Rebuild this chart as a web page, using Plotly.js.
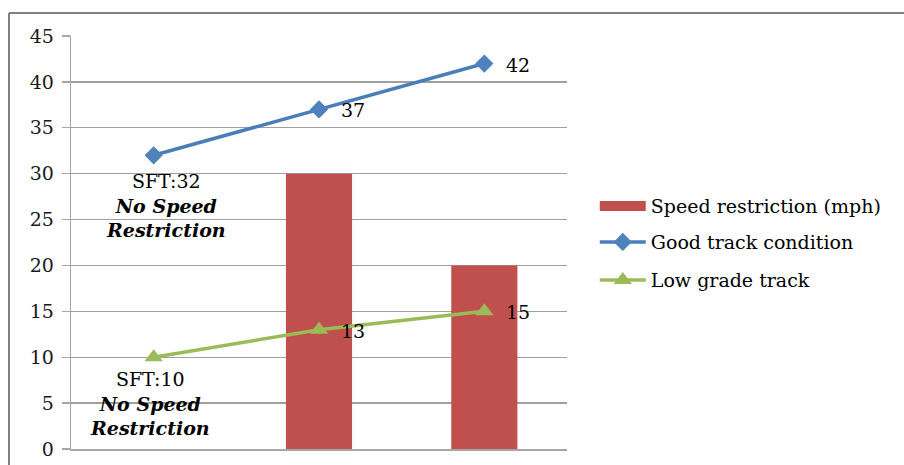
<!DOCTYPE html>
<html>
<head>
<meta charset="utf-8">
<script src="https://cdn.plot.ly/plotly-3.0.1.min.js"></script>
<style>
  html, body { margin: 0; padding: 0; background: #ffffff; }
  #chart { width: 904px; height: 465px; }
</style>
</head>
<body>
<div id="chart"></div>
<script>
// Track segments along the x axis (labels are not shown on the axis)
const segments = ['Segment 1', 'Segment 2', 'Segment 3'];

// Speed restriction imposed on each segment, mph (none on the first)
const speedRestriction = [null, 30, 20];

// SFT values under the two track conditions
const goodTrack = [32, 37, 42];
const lowGradeTrack = [10, 13, 15];

const seriesNames = ['Speed restriction (mph)', 'Good track condition', 'Low grade track'];

const FONT = 'DejaVu Serif, Liberation Serif, serif';
const FONT_SIZE = 19;
const RED = '#C0504D';
const BLUE = '#4A7EBB';
const GREEN = '#9BBB59';

const traces = [
  {
    type: 'bar',
    name: seriesNames[0],
    x: segments,
    y: speedRestriction,
    width: 0.4,
    marker: { color: RED },
    legendgroup: 'restriction',
    showlegend: false,
    hoverinfo: 'skip'
  },
  // legend key for the bars: a wide flat swatch
  {
    type: 'scatter',
    mode: 'lines',
    name: seriesNames[0],
    x: [null],
    y: [null],
    line: { color: RED, width: 10 },
    legendgroup: 'restriction',
    legend: 'legend',
    hoverinfo: 'skip'
  },
  {
    type: 'scatter',
    mode: 'lines+markers',
    name: seriesNames[1],
    x: segments,
    y: goodTrack,
    line: { color: BLUE, width: 3.5 },
    marker: { symbol: 'diamond', size: 14, color: '#4F81BD' },
    legend: 'legend2',
    hoverinfo: 'skip'
  },
  {
    type: 'scatter',
    mode: 'lines+markers',
    name: seriesNames[2],
    x: segments,
    y: lowGradeTrack,
    line: { color: GREEN, width: 3.5 },
    marker: { symbol: 'triangle-up', size: 16, color: GREEN },
    legend: 'legend3',
    hoverinfo: 'skip'
  }
];

// Value labels to the right of the later points
const annotations = [];
[goodTrack, lowGradeTrack].forEach(function (series) {
  for (let i = 1; i < series.length; i++) {
    annotations.push({
      x: segments[i], y: series[i], xref: 'x', yref: 'y',
      text: String(series[i]),
      showarrow: false,
      xanchor: 'left', yanchor: 'middle',
      xshift: 20, yshift: -1,
      font: { family: FONT, size: FONT_SIZE, color: '#000000' }
    });
  }
});

// Notes below the first point of each line
function firstNote(series, xshift, yshift) {
  return {
    x: segments[0], y: series[0], xref: 'x', yref: 'y',
    text: 'SFT:' + series[0] + '<br><b><i>No Speed</i></b><br><b><i>Restriction</i></b>',
    showarrow: false,
    xanchor: 'center', yanchor: 'top',
    xshift: xshift, yshift: yshift,
    align: 'center',
    font: { family: FONT, size: FONT_SIZE, color: '#000000' }
  };
}
annotations.push(firstNote(goodTrack, 12, -13));
annotations.push(firstNote(lowGradeTrack, -4, -9));

const legendBase = {
  xref: 'paper', yref: 'paper',
  x: 1.056, xanchor: 'left', yanchor: 'middle',
  bgcolor: 'rgba(0,0,0,0)',
  font: { family: FONT, size: FONT_SIZE, color: '#000000' },
  itemwidth: 46
};

const layout = {
  width: 904,
  height: 465,
  margin: { l: 71, r: 337, t: 36, b: 16, pad: 0 },
  paper_bgcolor: '#ffffff',
  plot_bgcolor: '#ffffff',
  showlegend: true,
  legend: Object.assign({}, legendBase, { y: 0.588 }),
  legend2: Object.assign({}, legendBase, { y: 0.501 }),
  legend3: Object.assign({}, legendBase, { y: 0.409 }),
  xaxis: {
    type: 'category',
    range: [-0.5, 2.5],
    showticklabels: false,
    ticks: '',
    showgrid: false,
    showline: true,
    linecolor: '#a6a6a6',
    linewidth: 1.5,
    zeroline: false,
    fixedrange: true
  },
  yaxis: {
    range: [0, 45],
    dtick: 5,
    tick0: 0,
    ticks: 'outside',
    ticklen: 8,
    tickcolor: '#a6a6a6',
    tickwidth: 1.3,
    ticklabelstandoff: 4,
    showgrid: true,
    gridcolor: '#a0a0a0',
    gridwidth: 1.3,
    showline: true,
    linecolor: '#a6a6a6',
    linewidth: 1.3,
    zeroline: false,
    tickfont: { family: FONT, size: FONT_SIZE, color: '#1a1a1a' },
    fixedrange: true
  },
  annotations: annotations,
  shapes: [
    // outer frame: top edge and left edge
    { type: 'line', xref: 'paper', yref: 'paper', x0: -0.125, x1: 1.7, y0: 1.0557, y1: 1.0557,
      line: { color: '#808080', width: 2 } },
    { type: 'line', xref: 'paper', yref: 'paper', x0: -0.125, x1: -0.125, y0: 1.0557, y1: -0.05,
      line: { color: '#808080', width: 2 } }
  ]
};

Plotly.newPlot('chart', traces, layout, { staticPlot: true, displayModeBar: false });
</script>
</body>
</html>
